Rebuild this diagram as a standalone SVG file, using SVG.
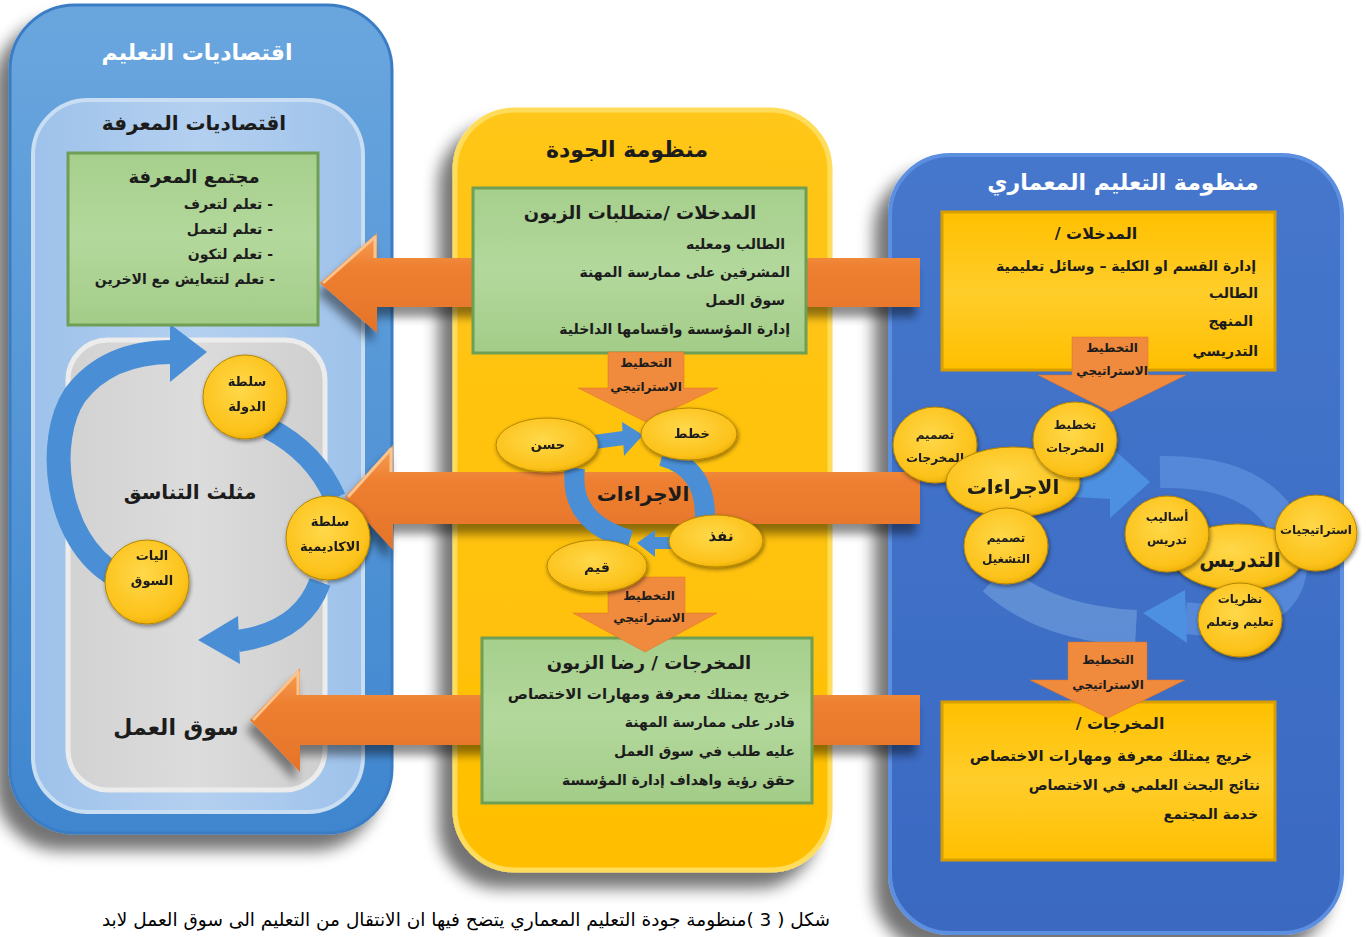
<svg xmlns="http://www.w3.org/2000/svg" width="1366" height="937" viewBox="0 0 1366 937">
<defs>
<style>
text{font-family:"DejaVu Sans","Noto Sans",sans-serif;font-weight:bold;fill:#1c1c1c}
.c{text-anchor:middle}
.e{text-anchor:end}
.w{fill:#ffffff}
.t15{font-size:15px}
.t14{font-size:14px}
.t13{font-size:13px}
.t12{font-size:12px}
.t16{font-size:16px}
.t18{font-size:18px}
.t20{font-size:20px}
.t22{font-size:22px}
.cap{font-weight:normal;font-size:18.5px;fill:#000}
.barrow{fill:#4a8fd6}
.bband{fill:none;stroke:#4a8fd6}
.circ{fill:url(#gCirc);stroke:#b78600;stroke-width:1}
.orange{fill:url(#gOr)}
.bevel{fill:none;stroke:#fbc48e;stroke-width:3;stroke-linejoin:round}
.strat{fill:#f08a3c;stroke:#e07020;stroke-width:.5}
</style>
<linearGradient id="gBlueL" x1="0" y1="0" x2="0" y2="1"><stop offset="0" stop-color="#6aa6de"/><stop offset="1" stop-color="#3f86cf"/></linearGradient>
<linearGradient id="gInner" x1="0" y1="0" x2="1" y2="0"><stop offset="0" stop-color="#9ec2ea"/><stop offset=".5" stop-color="#b4d0f0"/><stop offset="1" stop-color="#9ec2ea"/></linearGradient>
<linearGradient id="gGreen" x1="0" y1="0" x2="0" y2="1"><stop offset="0" stop-color="#a6cf8c"/><stop offset=".5" stop-color="#b3d89c"/><stop offset="1" stop-color="#a3cc88"/></linearGradient>
<linearGradient id="gGrey" x1="0" y1="0" x2="1" y2="0"><stop offset="0" stop-color="#d2d2d2"/><stop offset=".5" stop-color="#dcdcdc"/><stop offset="1" stop-color="#cfcfcf"/></linearGradient>
<linearGradient id="gYel" x1="0" y1="0" x2="0" y2="1"><stop offset="0" stop-color="#ffc61a"/><stop offset="1" stop-color="#ffbf00"/></linearGradient>
<linearGradient id="gBlueR" x1="0" y1="0" x2="0" y2="1"><stop offset="0" stop-color="#4577cc"/><stop offset="1" stop-color="#3a69c2"/></linearGradient>
<linearGradient id="gYBox" x1="0" y1="0" x2="0" y2="1"><stop offset="0" stop-color="#ffc000"/><stop offset=".5" stop-color="#ffcd2a"/><stop offset="1" stop-color="#ffbf00"/></linearGradient>
<linearGradient id="gOr" x1="0" y1="0" x2="0" y2="1"><stop offset="0" stop-color="#f6a055"/><stop offset=".35" stop-color="#ee7f30"/><stop offset="1" stop-color="#e5742a"/></linearGradient>
<radialGradient id="gCirc" cx=".45" cy=".4" r=".65"><stop offset="0" stop-color="#ffd84a"/><stop offset=".8" stop-color="#fcc21a"/><stop offset="1" stop-color="#e8a800"/></radialGradient>
<filter id="sh" x="-20%" y="-20%" width="140%" height="140%"><feGaussianBlur in="SourceAlpha" stdDeviation="8"/><feOffset dx="-14" dy="16" result="b"/><feComponentTransfer><feFuncA type="linear" slope=".55"/></feComponentTransfer><feMerge><feMergeNode/><feMergeNode in="SourceGraphic"/></feMerge></filter>
<filter id="sh2" x="-10%" y="-30%" width="120%" height="180%"><feGaussianBlur in="SourceAlpha" stdDeviation="5"/><feOffset dx="-4" dy="10"/><feComponentTransfer><feFuncA type="linear" slope=".45"/></feComponentTransfer><feMerge><feMergeNode/><feMergeNode in="SourceGraphic"/></feMerge></filter>
<filter id="sh3" x="-20%" y="-20%" width="140%" height="140%"><feGaussianBlur in="SourceAlpha" stdDeviation="2"/><feOffset dx="1" dy="2"/><feComponentTransfer><feFuncA type="linear" slope=".45"/></feComponentTransfer><feMerge><feMergeNode/><feMergeNode in="SourceGraphic"/></feMerge></filter>
</defs>

<rect width="1366" height="937" fill="#ffffff"/>

<!-- Panels -->
<g id="panel-economics-education">
<rect x="10" y="5" width="382" height="828" rx="65" fill="url(#gBlueL)" stroke="#3b7dc4" stroke-width="3" filter="url(#sh)"/>
<rect x="33" y="100" width="330" height="712" rx="55" fill="url(#gInner)" stroke="#c9ddf3" stroke-width="4"/>
<rect x="68" y="340" width="257" height="450" rx="40" fill="url(#gGrey)" stroke="#ececec" stroke-width="5"/>
<text class="c w t22" x="197" y="60">اقتصاديات التعليم</text>
<text class="c t20" x="194" y="130">اقتصاديات المعرفة</text>
<text class="c t20" x="190" y="499">مثلث التناسق</text>
<text class="c t22" x="176" y="735">سوق العمل</text>
</g>

<g id="panel-quality">
<rect x="455" y="110" width="375" height="760" rx="60" fill="url(#gYel)" stroke="#ffdc5a" stroke-width="5" filter="url(#sh)"/>
<text class="c t22" x="627" y="157">منظومة الجودة</text>
</g>

<g id="panel-arch">
<rect x="890" y="155" width="452" height="778" rx="60" fill="url(#gBlueR)" stroke="#5d8fe0" stroke-width="4" filter="url(#sh)"/>
<text class="c w t22" x="1123" y="190">منظومة التعليم المعماري</text>
</g>

<!-- Connectors -->
<g id="connectors">
<g filter="url(#sh2)">
<polygon class="orange" points="320,283 377,233 377,258 920,258 920,307 377,307 377,333"/>
<polygon class="orange" points="345,497 393,445 393,472 920,472 920,524 393,524 393,550"/>
<polygon class="orange" points="250,720 300,668 300,695 920,695 920,745 300,745 300,772"/>
</g>
<polyline class="bevel" points="323,283 375,237 375,258"/>
<polyline class="bevel" points="348,497 391,449 391,472"/>
<polyline class="bevel" points="253,720 298,672 298,695"/>
<!-- left cycle -->
<path class="bband" stroke-width="24" d="M115,575 C55,540 45,440 75,395 C100,362 135,352 172,352"/>
<polygon class="barrow" points="207,352 170,324 170,382"/>
<path class="bband" stroke-width="22" d="M268,428 Q315,452 335,498"/>
<path class="bband" stroke-width="22" d="M320,582 Q302,632 238,641"/>
<polygon class="barrow" points="198,640 238,616 240,664"/>
<!-- middle cycle -->
<path class="bband" stroke-width="14" d="M594,442 L624,438"/>
<polygon class="barrow" points="643,435 622,422 624,456"/>
<path class="bband" stroke-width="20" d="M662,456 Q706,468 705,518"/>
<path class="bband" stroke-width="12" d="M674,543 L654,543"/>
<polygon class="barrow" points="637,543 655,530 655,557"/>
<path class="bband" stroke-width="20" d="M630,540 Q568,522 575,468"/>
<!-- right cycle -->
<path fill="none" stroke="#6b98da" stroke-opacity=".75" stroke-width="36" d="M995,578 C1030,610 1080,625 1136,628"/>
<path fill="none" stroke="#5a8fdc" stroke-opacity=".8" stroke-width="32" d="M1160,472 C1260,470 1300,520 1290,575 C1282,610 1240,625 1185,618"/>
<polygon fill="#4d8fe0" points="1143,613 1185,590 1187,643"/>
<path fill="none" stroke="#4d8fe0" stroke-width="38" d="M1075,478 L1112,480"/>
<polygon fill="#4d8fe0" points="1150,482 1110,446 1110,518"/>
</g>

<!-- Nodes -->
<g id="node-knowledge-society">
<rect x="68" y="153" width="250" height="172" fill="url(#gGreen)" stroke="#6f9e55" stroke-width="3"/>
<text class="c t18" x="194" y="183">مجتمع المعرفة</text>
<text class="e t14" x="273" y="209">&#x200F;- تعلم لتعرف</text>
<text class="e t14" x="273" y="234">&#x200F;- تعلم لتعمل</text>
<text class="e t14" x="273" y="259">&#x200F;- تعلم لتكون</text>
<text class="e t14" x="275" y="284">&#x200F;- تعلم لتتعايش مع الاخرين</text>
</g>

<g id="node-quality-inputs">
<rect x="473" y="188" width="333" height="165" fill="url(#gGreen)" stroke="#6f9e55" stroke-width="3"/>
<text class="c t18" x="640" y="219">المدخلات /متطلبات الزبون</text>
<text class="e t14" x="785" y="249">الطالب ومعليه</text>
<text class="e t14" x="790" y="277">المشرفين على ممارسة المهنة</text>
<text class="e t14" x="785" y="305">سوق العمل</text>
<text class="e t14" x="790" y="334">إدارة المؤسسة واقسامها الداخلية</text>
</g>

<g id="node-quality-outputs">
<rect x="482" y="638" width="330" height="165" fill="url(#gGreen)" stroke="#6f9e55" stroke-width="3"/>
<text class="c t18" x="649" y="669">المخرجات / رضا الزبون</text>
<text class="e t15" x="790" y="699">خريج يمتلك معرفة ومهارات الاختصاص</text>
<text class="e t14" x="795" y="727">قادر على ممارسة المهنة</text>
<text class="e t14" x="795" y="756">عليه طلب في سوق العمل</text>
<text class="e t14" x="795" y="785">حقق رؤية واهداف إدارة المؤسسة</text>
</g>

<g id="node-arch-inputs">
<rect x="942" y="212" width="333" height="158" fill="url(#gYBox)" stroke="#d69e00" stroke-width="3"/>
<text class="c t16" x="1096" y="239">المدخلات /&#x200F;</text>
<text class="e t14" x="1256" y="271">إدارة القسم او الكلية – وسائل تعليمية</text>
<text class="e t14" x="1258" y="298">الطالب</text>
<text class="e t14" x="1253" y="326">المنهج</text>
<text class="e t14" x="1258" y="356">التدريسي</text>
</g>

<g id="node-arch-outputs">
<rect x="942" y="702" width="333" height="158" fill="url(#gYBox)" stroke="#d69e00" stroke-width="3"/>
<text class="c t16" x="1120" y="729">المخرجات   /&#x200F;</text>
<text class="e t15" x="1252" y="761">خريج يمتلك معرفة ومهارات الاختصاص</text>
<text class="e t14" x="1260" y="790">نتائج البحث العلمي في الاختصاص</text>
<text class="e t14" x="1258" y="819">خدمة المجتمع</text>
</g>

<g id="strategic-arrows">
<g id="strat-q1"><polygon class="strat" points="608,352 684,352 684,388 718,388 646,422 578,388 608,388"/><text class="c t12" x="646" y="367">التخطيط</text><text class="c t12" x="646" y="391">الاستراتيجي</text></g>
<g id="strat-q2"><polygon class="strat" points="608,577 685,577 685,613 717,613 645,652 573,613 608,613"/><text class="c t12" x="649" y="600">التخطيط</text><text class="c t12" x="649" y="622">الاستراتيجي</text></g>
<g id="strat-a1"><polygon class="strat" points="1072,337 1148,337 1148,375 1186,375 1111,412 1038,375 1072,375"/><text class="c t12" x="1112" y="352">التخطيط</text><text class="c t12" x="1112" y="375">الاستراتيجي</text></g>
<g id="strat-a2"><polygon class="strat" points="1068,642 1147,642 1147,680 1185,680 1108,718 1030,680 1068,680"/><text class="c t12" x="1108" y="664">التخطيط</text><text class="c t12" x="1108" y="689">الاستراتيجي</text></g>
</g>

<g id="node-state" filter="url(#sh3)"><circle class="circ" cx="245" cy="397" r="42"/><text class="c t13" x="247" y="386">سلطة</text><text class="c t13" x="247" y="411">الدولة</text></g>
<g id="node-academia" filter="url(#sh3)"><circle class="circ" cx="328" cy="538" r="42"/><text class="c t13" x="330" y="526">سلطة</text><text class="c t13" x="330" y="551">الاكاديمية</text></g>
<g id="node-market" filter="url(#sh3)"><circle class="circ" cx="147" cy="582" r="42"/><text class="c t13" x="152" y="560">اليات</text><text class="c t13" x="152" y="585">السوق</text></g>

<g id="node-improve" filter="url(#sh3)"><ellipse class="circ" cx="547" cy="445" rx="51" ry="27"/><text class="c t13" x="548" y="449">حسن</text></g>
<g id="node-plan" filter="url(#sh3)"><ellipse class="circ" cx="689" cy="434" rx="48" ry="26"/><text class="c t13" x="692" y="438">خطط</text></g>
<g id="node-execute" filter="url(#sh3)"><ellipse class="circ" cx="716" cy="541" rx="47" ry="26"/><text class="c t15" x="721" y="541">نفذ</text></g>
<g id="node-evaluate" filter="url(#sh3)"><ellipse class="circ" cx="597" cy="566" rx="50" ry="26"/><text class="c t14" x="597" y="572">قيم</text></g>
<text class="c t20" x="643" y="501">الاجراءات</text>

<g id="node-design-outputs" filter="url(#sh3)"><ellipse class="circ" cx="935" cy="445" rx="42" ry="38"/><text class="c t12" x="935" y="439">تصميم</text><text class="c t12" x="935" y="462">المخرجات</text></g>
<g id="node-procedures" filter="url(#sh3)"><ellipse class="circ" cx="1013" cy="482" rx="67" ry="35"/><text class="c t20" x="1013" y="494">الاجراءات</text></g>
<g id="node-plan-outputs" filter="url(#sh3)"><ellipse class="circ" cx="1075" cy="440" rx="42" ry="38"/><text class="c t12" x="1075" y="429">تخطيط</text><text class="c t12" x="1075" y="452">المخرجات</text></g>
<g id="node-design-ops" filter="url(#sh3)"><ellipse class="circ" cx="1006" cy="546" rx="42" ry="38"/><text class="c t12" x="1006" y="542">تصميم</text><text class="c t12" x="1006" y="563">التشغيل</text></g>
<g id="node-teaching" filter="url(#sh3)"><ellipse class="circ" cx="1238" cy="557" rx="65" ry="33"/></g>
<g id="node-methods" filter="url(#sh3)"><ellipse class="circ" cx="1167" cy="534" rx="42" ry="38"/><text class="c t12" x="1167" y="521">أساليب</text><text class="c t12" x="1167" y="544">تدريس</text></g>
<g id="node-strategies" filter="url(#sh3)"><ellipse class="circ" cx="1316" cy="533" rx="41" ry="38"/><text class="c t12" x="1316" y="534">استراتيجيات</text></g>
<text class="c t20" x="1240" y="567">التدريس</text>
<g id="node-theories" filter="url(#sh3)"><ellipse class="circ" cx="1240" cy="620" rx="42" ry="37"/><text class="c t12" x="1240" y="603">نظريات</text><text class="c t12" x="1240" y="626">تعليم وتعلم</text></g>

<text class="e cap" x="830" y="926">شكل ( 3 )منظومة جودة التعليم المعماري يتضح فيها ان الانتقال من التعليم الى سوق العمل لابد</text>
</svg>
